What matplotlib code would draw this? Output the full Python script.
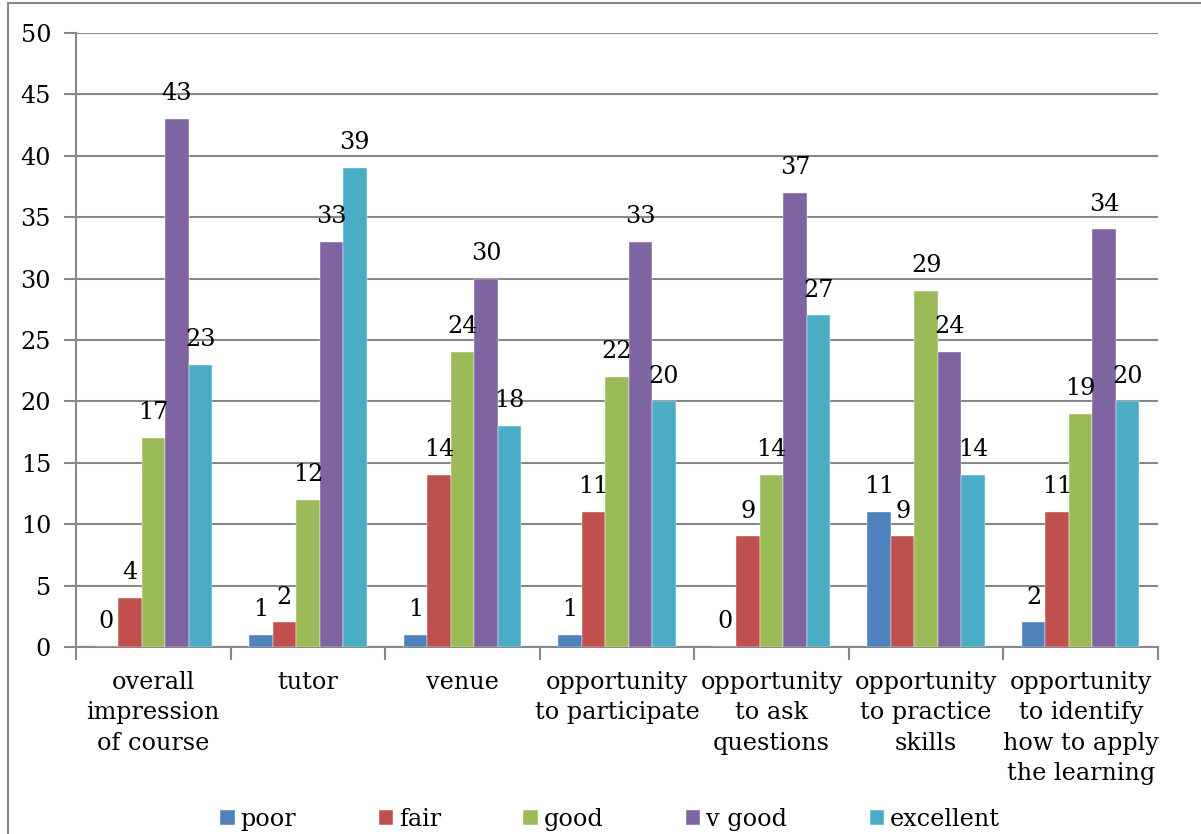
import numpy as np
import matplotlib.pyplot as plt
from matplotlib.patches import Rectangle

categories = [
    "overall\nimpression\nof course",
    "tutor",
    "venue",
    "opportunity\nto participate",
    "opportunity\nto ask\nquestions",
    "opportunity\nto practice\nskills",
    "opportunity\nto identify\nhow to apply\nthe learning",
]
series = ["poor", "fair", "good", "v good", "excellent"]
poor = [0, 1, 1, 1, 0, 11, 2]
fair = [4, 2, 14, 11, 9, 9, 11]
good = [17, 12, 24, 22, 14, 29, 19]
v_good = [43, 33, 30, 33, 37, 24, 34]
excellent = [23, 39, 18, 20, 27, 14, 20]
colors = ["#4F81BD", "#C0504D", "#9BBB59", "#8064A2", "#4BACC6"]

plt.rcParams['font.family'] = ['DejaVu Serif']
FS = 17.2
GRID = "#888888"

fig = plt.figure(figsize=(12.01, 8.34), dpi=100)
ax = fig.add_axes([76 / 1201, 1 - 647 / 834, (1158 - 76) / 1201, (647 - 33) / 834])

# outer chart border
fig.patches.append(Rectangle((8 / 1201, -0.05), 1.2, 1.05 - 3 / 834,
                             transform=fig.transFigure, fill=False,
                             edgecolor=GRID, lw=1.5))

x = np.arange(len(categories))
w = 0.152
data = [poor, fair, good, v_good, excellent]
for i, (name, vals, c) in enumerate(zip(series, data, colors)):
    pos = x + (i - 2) * w
    ax.bar(pos, vals, width=w, color=c, label=name, zorder=3,
           edgecolor="white", linewidth=0.3)
    for px, v in zip(pos, vals):
        ax.annotate(str(v), (px, v), xytext=(0, 10), textcoords="offset points",
                    ha="center", va="bottom", fontsize=FS, zorder=4)

ax.set_ylim(0, 50)
ax.set_xlim(-0.5, len(categories) - 0.5)
ax.set_yticks(range(0, 51, 5))
ax.yaxis.grid(True, color=GRID, lw=1.5, zorder=0)
ax.tick_params(axis="y", labelsize=FS, length=9, width=1.5, color=GRID, pad=9)

ax.set_xticks(np.arange(-0.5, len(categories)), labels=[])
ax.tick_params(axis="x", which="major", length=9, width=1.5, color=GRID)
ax.set_xticks(x, labels=categories, minor=True)
ax.tick_params(axis="x", which="minor", length=0, labelsize=FS, pad=17)
for lbl in ax.get_xticklabels(minor=True):
    lbl.set_linespacing(1.42)
    lbl.set_va("top")

for s in ["top", "right"]:
    ax.spines[s].set_visible(False)
for s in ["left", "bottom"]:
    ax.spines[s].set_color(GRID)
    ax.spines[s].set_linewidth(1.5)

fig.legend(loc="lower center", bbox_to_anchor=(0.508, -0.022), ncol=5,
           frameon=False, fontsize=FS, handlelength=0.6, handleheight=0.6,
           handletextpad=0.25, columnspacing=3.45)

fig.savefig("out.png", dpi=100)
